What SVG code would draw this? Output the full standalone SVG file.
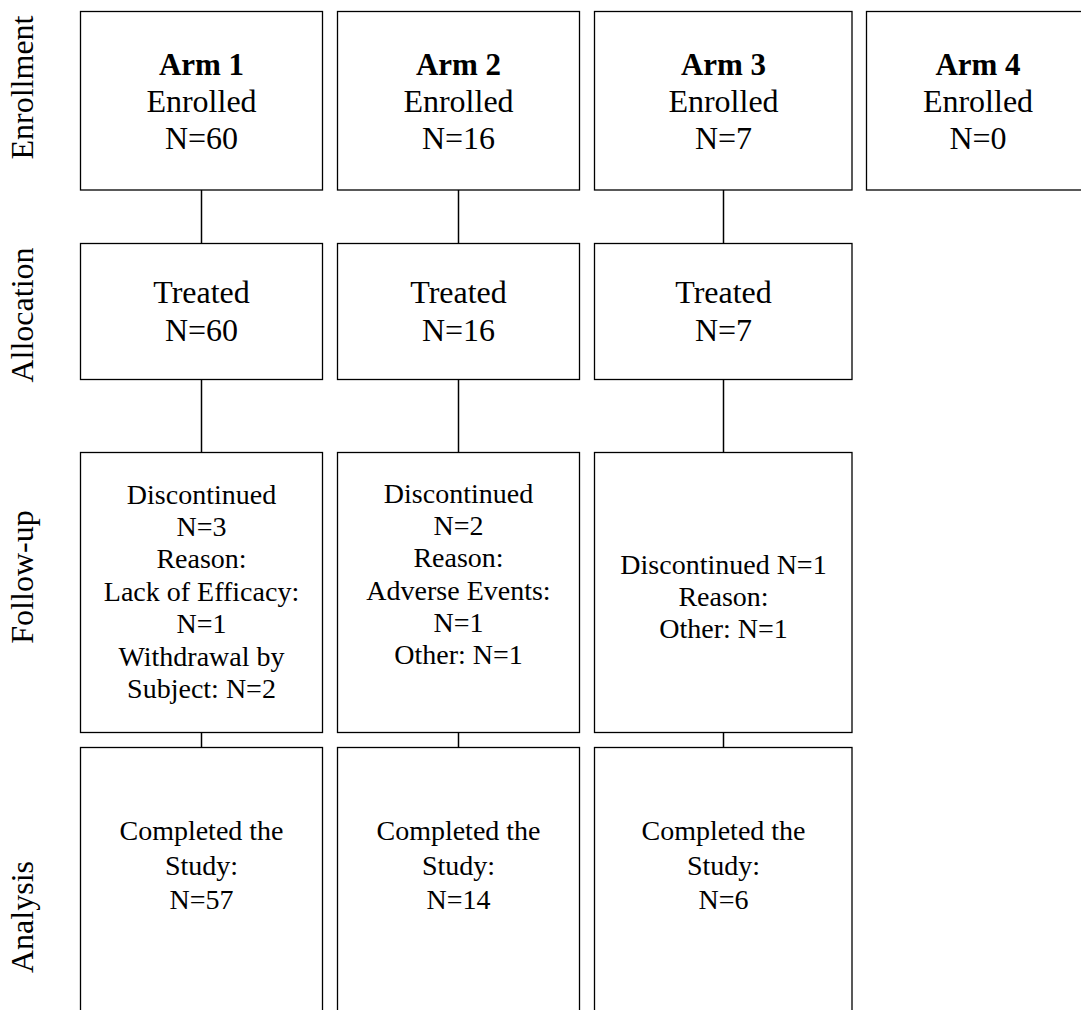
<svg xmlns="http://www.w3.org/2000/svg" width="1081" height="1010" viewBox="0 0 1081 1010">
<style>
.box{fill:#fff;stroke:#000;stroke-width:1.3}
.t{font-family:"Liberation Serif","Times New Roman",serif;font-size:28px;fill:#000;text-anchor:middle}
.big{font-size:32px}
.b{font-weight:bold;font-size:31px}
.lab{font-family:"Liberation Serif","Times New Roman",serif;font-size:32px;fill:#000;text-anchor:middle}
.c{stroke:#000;stroke-width:1.5;fill:none}
</style>
<rect width="1081" height="1010" fill="#fff"/>
<g id="labels">
<text class="lab" transform="translate(33,87.5) rotate(-90)">Enrollment</text>
<text class="lab" transform="translate(33,315) rotate(-90)">Allocation</text>
<text class="lab" transform="translate(33,577) rotate(-90)">Follow-up</text>
<text class="lab" transform="translate(33,917) rotate(-90)">Analysis</text>
</g>
<g id="connectors">
<line class="c" x1="201.5" y1="190" x2="201.5" y2="243.5"/>
<line class="c" x1="201.5" y1="379.5" x2="201.5" y2="452.5"/>
<line class="c" x1="201.5" y1="732.5" x2="201.5" y2="747.5"/>
<line class="c" x1="458.5" y1="190" x2="458.5" y2="243.5"/>
<line class="c" x1="458.5" y1="379.5" x2="458.5" y2="452.5"/>
<line class="c" x1="458.5" y1="732.5" x2="458.5" y2="747.5"/>
<line class="c" x1="723.5" y1="190" x2="723.5" y2="243.5"/>
<line class="c" x1="723.5" y1="379.5" x2="723.5" y2="452.5"/>
<line class="c" x1="723.5" y1="732.5" x2="723.5" y2="747.5"/>
</g>
<g id="arm1-enroll">
<rect class="box" x="80.5" y="11.5" width="242" height="178.5"/>
<text class="t b" x="201.5" y="75">Arm 1</text>
<text class="t big" x="201.5" y="112">Enrolled</text>
<text class="t big" x="201.5" y="149">N=60</text>
</g>
<g id="arm2-enroll">
<rect class="box" x="337.5" y="11.5" width="242" height="178.5"/>
<text class="t b" x="458.5" y="75">Arm 2</text>
<text class="t big" x="458.5" y="112">Enrolled</text>
<text class="t big" x="458.5" y="149">N=16</text>
</g>
<g id="arm3-enroll">
<rect class="box" x="594.5" y="11.5" width="257.5" height="178.5"/>
<text class="t b" x="723.5" y="75">Arm 3</text>
<text class="t big" x="723.5" y="112">Enrolled</text>
<text class="t big" x="723.5" y="149">N=7</text>
</g>
<g id="arm4-enroll">
<rect class="box" x="866.5" y="11.5" width="228" height="178.5"/>
<text class="t b" x="978" y="75">Arm 4</text>
<text class="t big" x="978" y="112">Enrolled</text>
<text class="t big" x="978" y="149">N=0</text>
</g>
<g id="arm1-alloc">
<rect class="box" x="80.5" y="243.5" width="242" height="136"/>
<text class="t big" x="201.5" y="303">Treated</text>
<text class="t big" x="201.5" y="341">N=60</text>
</g>
<g id="arm2-alloc">
<rect class="box" x="337.5" y="243.5" width="242" height="136"/>
<text class="t big" x="458.5" y="303">Treated</text>
<text class="t big" x="458.5" y="341">N=16</text>
</g>
<g id="arm3-alloc">
<rect class="box" x="594.5" y="243.5" width="257.5" height="136"/>
<text class="t big" x="723.5" y="303">Treated</text>
<text class="t big" x="723.5" y="341">N=7</text>
</g>
<g id="arm1-follow">
<rect class="box" x="80.5" y="452.5" width="242" height="280"/>
<text class="t" x="201.5" y="503.5">Discontinued</text>
<text class="t" x="201.5" y="536">N=3</text>
<text class="t" x="201.5" y="568.3">Reason:</text>
<text class="t" x="201.5" y="600.7">Lack of Efficacy:</text>
<text class="t" x="201.5" y="633">N=1</text>
<text class="t" x="201.5" y="665.5">Withdrawal by</text>
<text class="t" x="201.5" y="698">Subject: N=2</text>
</g>
<g id="arm2-follow">
<rect class="box" x="337.5" y="452.5" width="242" height="280"/>
<text class="t" x="458.5" y="503">Discontinued</text>
<text class="t" x="458.5" y="535">N=2</text>
<text class="t" x="458.5" y="567">Reason:</text>
<text class="t" x="458.5" y="599.5">Adverse Events:</text>
<text class="t" x="458.5" y="632">N=1</text>
<text class="t" x="458.5" y="664">Other: N=1</text>
</g>
<g id="arm3-follow">
<rect class="box" x="594.5" y="452.5" width="257.5" height="280"/>
<text class="t" x="723.5" y="574">Discontinued N=1</text>
<text class="t" x="723.5" y="606">Reason:</text>
<text class="t" x="723.5" y="638">Other: N=1</text>
</g>
<g id="arm1-analysis">
<rect class="box" x="80.5" y="747.5" width="242" height="300"/>
<text class="t" x="201.5" y="840">Completed the</text>
<text class="t" x="201.5" y="875">Study:</text>
<text class="t" x="201.5" y="909">N=57</text>
</g>
<g id="arm2-analysis">
<rect class="box" x="337.5" y="747.5" width="242" height="300"/>
<text class="t" x="458.5" y="840">Completed the</text>
<text class="t" x="458.5" y="875">Study:</text>
<text class="t" x="458.5" y="909">N=14</text>
</g>
<g id="arm3-analysis">
<rect class="box" x="594.5" y="747.5" width="257.5" height="300"/>
<text class="t" x="723.5" y="840">Completed the</text>
<text class="t" x="723.5" y="875">Study:</text>
<text class="t" x="723.5" y="909">N=6</text>
</g>
</svg>
